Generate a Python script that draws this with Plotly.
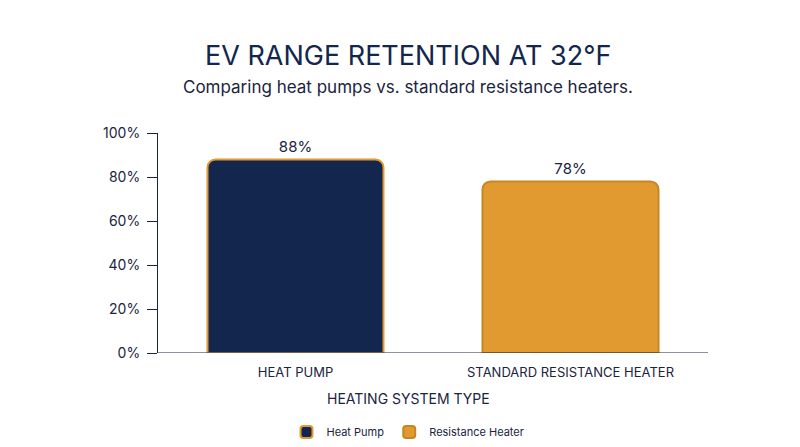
import plotly.graph_objects as go

# Chart data
categories = ["HEAT PUMP", "STANDARD RESISTANCE HEATER"]
series_names = ["Heat Pump", "Resistance Heater"]
retention = [88, 78]
tick_vals = [0, 20, 40, 60, 80, 100]
tick_text = ["0%", "20%", "40%", "60%", "80%", "100%"]

fill_colors = ["#13264d", "#e09a30"]
edge_colors = ["#e09a30", "#c98522"]

TOP, BOTTOM, LEFT, RIGHT = 125, 102, 150, 100
plot_h = 447 - TOP - BOTTOM

def py(pixel_y):
    # convert a pixel row to paper y
    return 1 + (TOP - pixel_y) / plot_h

fig = go.Figure()
for cat, name, val, fc, ec in zip(categories, series_names, retention, fill_colors, edge_colors):
    fig.add_trace(go.Bar(
        x=[cat], y=[val], name=name,
        marker=dict(color=fc, line=dict(color=ec, width=2), cornerradius=8),
        width=0.64,
        text=[f"{val}%"], textposition="outside",
        textfont=dict(size=15, color="#1a2440"),
        cliponaxis=False,
    ))

title_x = (400 - LEFT) / (800 - LEFT - RIGHT)
fig.update_layout(
    width=800, height=447,
    margin=dict(l=LEFT, r=RIGHT, t=TOP, b=BOTTOM, autoexpand=False),
    plot_bgcolor="white", paper_bgcolor="white",
    font=dict(family="Inter, Roboto, sans-serif", color="#1a2440"),
    barmode="overlay",
    showlegend=True,
    legend=dict(orientation="h", x=title_x, xanchor="center", y=py(424), yanchor="middle",
                font=dict(size=11), traceorder="normal"),
    annotations=[
        dict(text="EV RANGE RETENTION AT 32°F", x=title_x, xref="paper", y=py(47), yref="paper",
             yanchor="middle", showarrow=False, font=dict(size=27, color="#13264d")),
        dict(text="Comparing heat pumps vs. standard resistance heaters.", x=title_x, xref="paper",
             y=py(79), yref="paper", yanchor="middle", showarrow=False,
             font=dict(size=17, color="#1a2440")),
        dict(text="HEATING SYSTEM TYPE", x=title_x, xref="paper", y=py(390), yref="paper",
             yanchor="middle", showarrow=False, font=dict(size=14, color="#1a2440")),
    ],
)

fig.update_xaxes(showline=False, ticks="", tickfont=dict(size=13), ticklabelstandoff=10)
fig.update_yaxes(
    range=[0, 100], tickvals=tick_vals, ticktext=tick_text,
    showgrid=False, showline=True, linecolor="#1a2440", linewidth=1,
    ticks="outside", ticklen=10, tickcolor="#1a2440", tickfont=dict(size=14),
    zeroline=False, ticklabelstandoff=4,
)
fig.add_shape(type="line", xref="paper", yref="y", x0=0, x1=1, y0=0, y1=0,
              line=dict(color="#1a2440", width=1))

fig.write_html("out.html")
